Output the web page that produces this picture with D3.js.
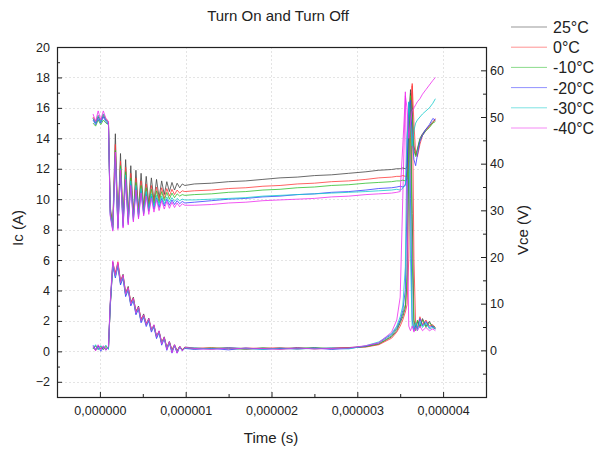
<!DOCTYPE html>
<html>
<head>
<meta charset="utf-8">
<script src="https://cdn.jsdelivr.net/npm/d3@7/dist/d3.min.js"></script>
<style>
  body { margin: 0; background: #fff; }
  svg text { font-family: "Liberation Sans", Arial, sans-serif; fill: #222; }
</style>
</head>
<body>
<svg id="chart" width="598" height="451"></svg>
<script>
// time base in microseconds (shared by every trace)
var TIME_US = [
  -0.08, -0.05, -0.02, 0.01, 0.04, 0.07, 0.10,
  0.12, 0.15, 0.18, 0.21, 0.24, 0.27, 0.30, 0.33, 0.36, 0.39, 0.42, 0.45, 0.48, 0.51, 0.54,
  0.57, 0.60, 0.63, 0.66, 0.69, 0.72, 0.75, 0.78, 0.81, 0.84, 0.87, 0.90, 0.93, 0.96, 0.99,
  1.1, 1.3, 1.5, 1.7, 1.9, 2.1, 2.3, 2.5, 2.7, 2.9, 3.1, 3.25, 3.4,
  3.46, 3.50, 3.53, 3.56, 3.58, 3.60, 3.62, 3.64, 3.66, 3.68, 3.70, 3.73, 3.76, 3.80, 3.84, 3.88, 3.91
];

var temps = ['25°C', '0°C', '-10°C', '-20°C', '-30°C', '-40°C'];
var colors = ['#444444', '#ff3b3b', '#2fbf2f', '#3a3aff', '#14cccc', '#ee2cee'];

// Ic (A), left axis
var ic25 = [15.3, 15.0, 15.4, 15.1, 15.5, 15.2, 15.0,
  9.5, 8.3, 14.3, 8.4, 13.0, 8.6, 12.6, 8.8, 12.2, 9.0, 11.9, 9.3, 11.7, 9.5, 11.5, 9.7, 11.4, 9.9, 11.3, 10.1, 11.2, 10.3, 11.15, 10.5, 11.1, 10.6, 11.05, 10.75, 11.0, 10.9,
  11.0, 11.05, 11.15, 11.2, 11.3, 11.4, 11.45, 11.55, 11.6, 11.7, 11.8, 11.9, 11.95,
  12.0, 12.0, 12.05, 12.0, 12.1, 14.5, 17.2, 16.0, 13.5, 12.9, 13.3, 14.0, 14.3, 14.6, 14.8, 15.1, 15.2];
var ic0 = [15.4, 15.1, 15.5, 15.2, 15.6, 15.3, 15.1,
  9.3, 8.2, 13.6, 8.3, 12.5, 8.5, 12.1, 8.7, 11.7, 8.9, 11.4, 9.1, 11.2, 9.3, 11.0, 9.5, 10.9, 9.7, 10.8, 9.9, 10.75, 10.05, 10.7, 10.2, 10.65, 10.3, 10.6, 10.4, 10.55, 10.5,
  10.55, 10.6, 10.7, 10.75, 10.85, 10.9, 11.0, 11.05, 11.15, 11.2, 11.3, 11.4, 11.45,
  11.5, 11.5, 11.55, 11.5, 11.5, 12.5, 15.5, 17.6, 15.0, 13.0, 12.8, 13.6, 14.2, 14.5, 14.8, 15.0, 15.3];
var icM10 = [15.0, 14.8, 15.2, 14.9, 15.2, 15.0, 14.9,
  9.2, 8.1, 13.2, 8.2, 12.2, 8.4, 11.8, 8.6, 11.4, 8.8, 11.1, 9.0, 10.9, 9.2, 10.75, 9.4, 10.65, 9.6, 10.55, 9.75, 10.5, 9.9, 10.45, 10.0, 10.4, 10.1, 10.35, 10.2, 10.3, 10.25,
  10.3, 10.35, 10.45, 10.5, 10.6, 10.65, 10.75, 10.8, 10.9, 10.95, 11.05, 11.1, 11.15,
  11.2, 11.2, 11.25, 11.2, 11.3, 13.0, 16.8, 15.5, 13.2, 12.8, 13.2, 13.9, 14.2, 14.5, 14.7, 15.0, 15.1];
var icM20 = [15.2, 14.9, 15.3, 15.0, 15.4, 15.1, 14.9,
  9.0, 8.0, 12.8, 8.1, 11.8, 8.2, 11.4, 8.4, 11.0, 8.6, 10.7, 8.8, 10.5, 9.0, 10.35, 9.2, 10.2, 9.35, 10.1, 9.45, 10.05, 9.55, 10.0, 9.6, 9.95, 9.65, 9.9, 9.7, 9.85, 9.75,
  9.8, 9.9, 10.0, 10.05, 10.15, 10.2, 10.3, 10.35, 10.45, 10.5, 10.6, 10.7, 10.75,
  10.8, 10.85, 10.8, 10.9, 12.0, 16.0, 16.5, 14.0, 12.6, 12.2, 12.9, 13.8, 14.2, 14.6, 14.9, 15.3, 15.2];
var icM30 = [15.3, 15.0, 15.5, 15.1, 15.6, 15.2, 15.0,
  9.1, 8.0, 13.0, 8.1, 12.0, 8.3, 11.6, 8.5, 11.2, 8.7, 10.9, 8.9, 10.7, 9.1, 10.5, 9.3, 10.35, 9.5, 10.25, 9.6, 10.2, 9.7, 10.15, 9.8, 10.1, 9.85, 10.05, 9.9, 10.0, 9.95,
  9.95, 10.0, 10.05, 10.1, 10.2, 10.25, 10.3, 10.35, 10.4, 10.45, 10.5, 10.55, 10.6,
  10.65, 10.6, 10.7, 11.0, 14.0, 16.4, 15.0, 13.5, 14.5, 15.0, 15.2, 15.4, 15.6, 15.8, 16.0, 16.3, 16.6];
var icM40 = [15.6, 15.1, 15.8, 15.2, 15.8, 15.3, 15.1,
  8.9, 7.9, 13.1, 8.0, 11.9, 8.1, 11.3, 8.3, 10.9, 8.5, 10.6, 8.7, 10.4, 8.9, 10.2, 9.0, 10.05, 9.15, 9.95, 9.25, 9.9, 9.35, 9.85, 9.4, 9.8, 9.45, 9.75, 9.5, 9.7, 9.6,
  9.6, 9.65, 9.75, 9.8, 9.9, 9.95, 10.0, 10.05, 10.15, 10.2, 10.3, 10.35, 10.4,
  10.45, 10.5, 13.5, 16.8, 16.0, 14.0, 15.0, 15.8, 16.0, 16.2, 16.4, 16.6, 16.9, 17.2, 17.5, 17.8, 18.0];

// Vce (V), right axis
var vce25 = [0.7, 0.0, 1.0, 0.3, 0.8, 0.2, 0.7,
  9.8, 18.9, 16.3, 18.6, 14.7, 16.3, 12.1, 13.7, 10.1, 11.4, 8.2, 9.5, 6.5, 7.8, 5.6, 6.9, 4.4, 5.4, 3.0, 4.1, 1.6, 2.9, 0.5, 1.9, 0.0, 1.2, -0.2, 0.9, 0.1, 0.7,
  0.5, 0.3, 0.6, 0.3, 0.5, 0.3, 0.6, 0.3, 0.5, 0.6, 0.8, 1.3, 2.9,
  4.2, 5.9, 7.2, 9.1, 14.7, 39.1, 54.8, 29.3, 6.5, 4.6, 6.2, 4.9, 6.8, 5.2, 6.2, 4.9, 4.6];
var vce0 = [0.5, 0.9, 0.2, 0.8, 0.3, 0.9, 0.4,
  9.0, 18.5, 16.6, 19.0, 15.0, 16.0, 12.5, 13.4, 10.4, 11.2, 8.5, 9.2, 6.8, 7.5, 5.8, 6.6, 4.6, 5.2, 3.2, 3.9, 1.9, 2.7, 0.7, 1.7, 0.2, 1.1, 0.0, 0.8, 0.2, 0.6,
  0.4, 0.6, 0.3, 0.5, 0.4, 0.6, 0.3, 0.5, 0.4, 0.6, 0.7, 1.2, 2.6,
  3.9, 5.2, 6.5, 8.2, 9.8, 19.6, 45.6, 56.7, 19.6, 5.2, 4.9, 7.2, 5.5, 6.5, 5.2, 5.5, 4.9];
var vceM10 = [0.3, 1.0, 0.4, 0.9, 0.1, 0.8, 0.3,
  9.5, 18.2, 15.9, 18.3, 14.3, 15.8, 11.8, 13.2, 9.8, 11.0, 7.9, 9.1, 6.2, 7.4, 5.4, 6.5, 4.2, 5.2, 2.8, 4.0, 1.4, 2.7, 0.3, 1.8, -0.3, 1.1, -0.4, 0.8, 0.0, 0.5,
  0.3, 0.5, 0.4, 0.2, 0.5, 0.3, 0.4, 0.6, 0.3, 0.5, 0.8, 1.4, 3.1,
  4.6, 6.2, 7.8, 9.8, 16.3, 45.6, 55.1, 19.6, 5.2, 4.2, 6.5, 5.2, 6.5, 4.9, 5.9, 5.2, 4.9];
var vceM20 = [1.1, 0.2, 0.9, -0.2, 0.7, 0.1, 0.6,
  9.2, 18.0, 15.5, 18.0, 14.0, 15.4, 11.5, 12.9, 9.5, 10.7, 7.6, 8.8, 5.9, 7.1, 5.1, 6.3, 3.9, 5.0, 2.5, 3.8, 1.1, 2.5, 0.0, 1.6, -0.6, 1.0, -0.6, 0.7, -0.1, 0.4,
  0.2, 0.4, 0.1, 0.5, 0.2, 0.4, 0.3, 0.5, 0.2, 0.4, 0.9, 1.6, 3.4,
  4.9, 6.5, 8.5, 13.0, 32.6, 53.1, 32.6, 6.5, 4.2, 5.5, 4.6, 6.8, 5.2, 6.2, 4.9, 5.2, 4.6];
var vceM30 = [0.4, 1.2, 0.1, 1.0, 0.5, 1.1, 0.2,
  9.6, 18.4, 15.8, 18.2, 14.4, 15.6, 11.9, 13.0, 9.9, 10.8, 8.0, 8.9, 6.3, 7.2, 5.5, 6.4, 4.3, 5.1, 2.9, 3.8, 1.5, 2.5, 0.4, 1.6, -0.2, 1.0, -0.3, 0.7, 0.0, 0.5,
  0.5, 0.3, 0.5, 0.4, 0.2, 0.5, 0.3, 0.4, 0.5, 0.3, 1.0, 1.8, 3.6,
  5.2, 7.2, 9.5, 17.9, 45.6, 51.5, 19.6, 4.9, 4.6, 5.9, 4.2, 6.2, 4.9, 5.9, 4.6, 4.9, 4.6];
var vceM40 = [0.9, -0.1, 1.2, 0.2, 1.0, 0.0, 0.8,
  10.2, 19.2, 16.0, 18.8, 14.5, 16.1, 12.0, 13.4, 9.9, 11.1, 8.0, 9.3, 6.3, 7.6, 5.5, 6.8, 4.3, 5.5, 2.9, 4.2, 1.4, 2.8, 0.2, 1.9, -0.5, 1.2, -0.6, 0.9, -0.1, 0.6,
  0.4, 0.2, 0.5, 0.3, 0.4, 0.2, 0.5, 0.3, 0.4, 0.5, 1.0, 1.6, 3.9,
  6.5, 11.4, 32.6, 55.4, 29.3, 5.2, 4.2, 5.2, 3.9, 4.9, 4.2, 5.2, 4.2, 4.9, 4.2, 4.6, 4.2];

var icSeries = [ic25, ic0, icM10, icM20, icM30, icM40];
var vceSeries = [vce25, vce0, vceM10, vceM20, vceM30, vceM40];

// tick values
var timeTicks = [0, 0.000001, 0.000002, 0.000003, 0.000004];
var icTicks = [-2, 0, 2, 4, 6, 8, 10, 12, 14, 16, 18, 20];
var vceTicks = [0, 10, 20, 30, 40, 50, 60];

var svg = d3.select('#chart');
var plot = { left: 57, right: 486, top: 47, bottom: 397 };

var x = d3.scaleLinear().domain([-0.5e-6, 4.5e-6]).range([plot.left, plot.right]);
var yI = d3.scaleLinear().domain([-3, 20]).range([plot.bottom, plot.top]);
var yV = d3.scaleLinear().domain([-10, 65]).range([plot.bottom, plot.top]);

// light grid
var grid = svg.append('g').attr('stroke', '#e4e4e4').attr('stroke-width', 1).attr('stroke-dasharray', '2,2');
grid.selectAll('line.gx').data(timeTicks).enter().append('line')
    .attr('x1', function (d) { return Math.round(x(d)) + 0.5; })
    .attr('x2', function (d) { return Math.round(x(d)) + 0.5; })
    .attr('y1', plot.top).attr('y2', plot.bottom);
grid.selectAll('line.gy').data(icTicks).enter().append('line')
    .attr('y1', function (d) { return Math.round(yI(d)) + 0.5; })
    .attr('y2', function (d) { return Math.round(yI(d)) + 0.5; })
    .attr('x1', plot.left).attr('x2', plot.right);

// traces
var lineI = d3.line()
    .x(function (d, i) { return x(TIME_US[i] * 1e-6); })
    .y(function (d) { return yI(d); });
var lineV = d3.line()
    .x(function (d, i) { return x(TIME_US[i] * 1e-6); })
    .y(function (d) { return yV(d); });

var traces = svg.append('g').attr('fill', 'none').attr('stroke-width', 0.8);
vceSeries.forEach(function (s, k) {
    traces.append('path').attr('d', lineV(s)).attr('stroke', colors[k]);
});
icSeries.forEach(function (s, k) {
    traces.append('path').attr('d', lineI(s)).attr('stroke', colors[k]);
});

// axes (ticks point inward)
function fmtTime(d) { return d3.format('.6f')(d).replace('.', ','); }

function styleAxis(g) {
    g.select('.domain').remove();
    g.selectAll('.tick line').attr('stroke', '#222');
    g.selectAll('.tick text').attr('fill', '#222').style('font-size', '12.5px')
        .style('font-family', '"Liberation Sans", Arial, sans-serif');
}

svg.append('g').attr('transform', 'translate(0,' + plot.bottom + ')')
    .call(d3.axisBottom(x).tickValues(timeTicks).tickSize(-5).tickPadding(9).tickFormat(fmtTime))
    .call(styleAxis);
svg.append('g').attr('transform', 'translate(0,' + plot.bottom + ')')
    .call(d3.axisBottom(x).tickValues(d3.range(-0.5e-6, 4.6e-6, 1e-6)).tickSize(-3).tickFormat(''))
    .call(styleAxis);

svg.append('g').attr('transform', 'translate(' + plot.left + ',0)')
    .call(d3.axisLeft(yI).tickValues(icTicks).tickSize(-5).tickPadding(7).tickFormat(d3.format('d')))
    .call(styleAxis);
svg.append('g').attr('transform', 'translate(' + plot.left + ',0)')
    .call(d3.axisLeft(yI).tickValues(d3.range(-3, 20, 2)).tickSize(-3).tickFormat(''))
    .call(styleAxis);

svg.append('g').attr('transform', 'translate(' + plot.right + ',0)')
    .call(d3.axisRight(yV).tickValues(vceTicks).tickSize(-5).tickPadding(4).tickFormat(d3.format('d')))
    .call(styleAxis);
svg.append('g').attr('transform', 'translate(' + plot.right + ',0)')
    .call(d3.axisRight(yV).tickValues(d3.range(-5, 65, 10)).tickSize(-3).tickFormat(''))
    .call(styleAxis);

// frame
svg.append('rect')
    .attr('x', plot.left + 0.5).attr('y', plot.top + 0.5)
    .attr('width', plot.right - plot.left).attr('height', plot.bottom - plot.top)
    .attr('fill', 'none').attr('stroke', '#222').attr('stroke-width', 1.2);

// titles
svg.append('text').attr('x', 278).attr('y', 21).attr('text-anchor', 'middle')
    .style('font-size', '15px').text('Turn On and Turn Off');
svg.append('text').attr('x', 271).attr('y', 443).attr('text-anchor', 'middle')
    .style('font-size', '15px').text('Time (s)');
svg.append('text').attr('transform', 'translate(23,228) rotate(-90)').attr('text-anchor', 'middle')
    .style('font-size', '15px').text('Ic (A)');
svg.append('text').attr('transform', 'translate(528,230) rotate(-90)').attr('text-anchor', 'middle')
    .style('font-size', '15px').text('Vce (V)');

// legend
var legend = svg.append('g');
temps.forEach(function (t, k) {
    var yy = 27 + k * 20.2;
    legend.append('line').attr('x1', 511).attr('x2', 547)
        .attr('y1', yy).attr('y2', yy)
        .attr('stroke', colors[k]).attr('stroke-width', 1).attr('opacity', 0.55);
    legend.append('text').attr('x', 553).attr('y', yy + 6)
        .style('font-size', '16px').text(t);
});
</script>
</body>
</html>
